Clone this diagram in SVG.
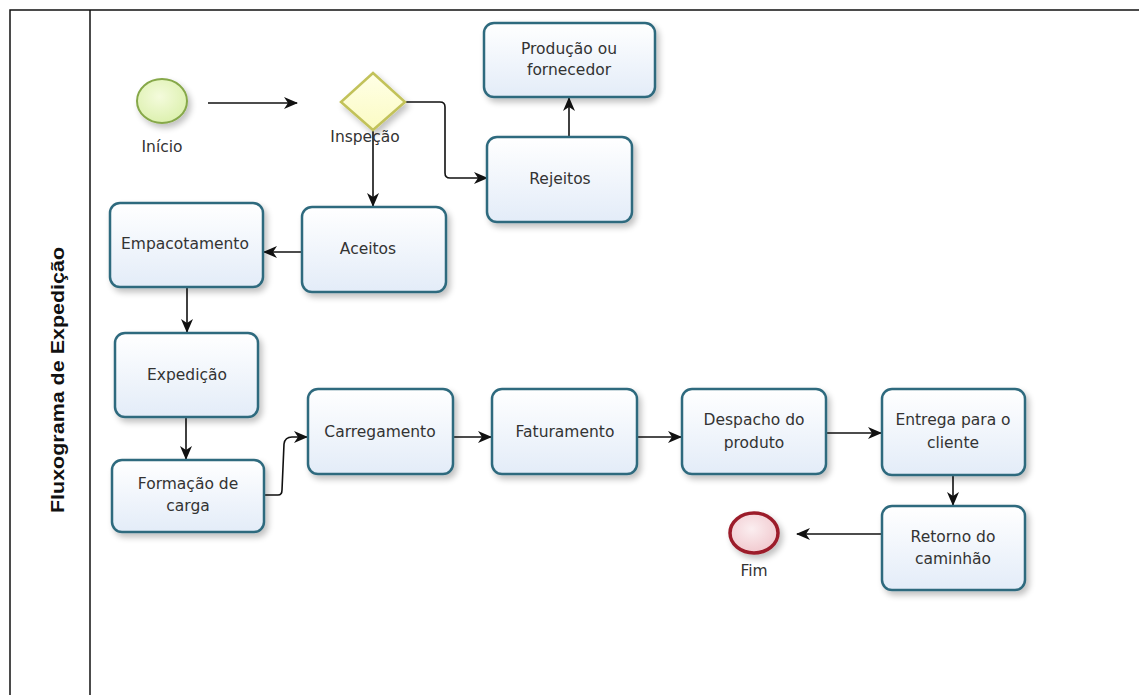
<svg xmlns="http://www.w3.org/2000/svg" width="1139" height="695" viewBox="0 0 1139 695">
<defs>
<linearGradient id="boxg" x1="0" y1="0" x2="0" y2="1">
<stop offset="0" stop-color="#ffffff"/>
<stop offset="1" stop-color="#e3ecf8"/>
</linearGradient>
<radialGradient id="startg" cx="0.45" cy="0.4" r="0.7">
<stop offset="0" stop-color="#f4fbdc"/>
<stop offset="1" stop-color="#d9efa8"/>
</radialGradient>
<radialGradient id="endg" cx="0.45" cy="0.4" r="0.7">
<stop offset="0" stop-color="#fbeef0"/>
<stop offset="1" stop-color="#efc3c9"/>
</radialGradient>
<linearGradient id="gwg" x1="0" y1="0" x2="0" y2="1">
<stop offset="0" stop-color="#ffffe6"/>
<stop offset="1" stop-color="#fbfbc4"/>
</linearGradient>
<filter id="sh" x="-20%" y="-20%" width="150%" height="150%">
<feGaussianBlur in="SourceAlpha" stdDeviation="3"/>
<feOffset dx="3" dy="4" result="b"/>
<feComponentTransfer><feFuncA type="linear" slope="0.25"/></feComponentTransfer>
<feMerge><feMergeNode/><feMergeNode in="SourceGraphic"/></feMerge>
</filter>
<marker id="arr" viewBox="0 0 14 12" refX="13" refY="6" markerWidth="14" markerHeight="12" markerUnits="userSpaceOnUse" orient="auto">
<path d="M0,0 L14,6 L0,12 L4,6 Z" fill="#111"/>
</marker>
</defs>
<style>
.box{fill:url(#boxg);stroke:#2f6a7e;stroke-width:2.5;filter:url(#sh)}
.t{font-family:"DejaVu Sans",Verdana,sans-serif;font-size:15.5px;fill:#333;text-anchor:middle}
.c{fill:none;stroke:#111;stroke-width:1.6;marker-end:url(#arr)}
.pool{fill:none;stroke:#111;stroke-width:1.5}
</style>
<rect width="1139" height="695" fill="#fff"/>
<g id="pool">
<path class="pool" d="M10,695 L10,10 L1139,10"/>
<path class="pool" d="M90,10 L90,695"/>
<text x="0" y="0" transform="translate(64,380) rotate(-90)" text-anchor="middle" textLength="266" lengthAdjust="spacingAndGlyphs" style="font-family:'Liberation Sans',Arial,sans-serif;font-size:18px;font-weight:bold;fill:#111">Fluxograma de Expedição</text>
</g>
<g id="connectors">
<path class="c" d="M208,103 L297,103"/>
<path class="c" d="M405,102 L440,102 Q445,102 445,107 L445,173 Q445,178 450,178 L487,178"/>
<path class="c" d="M373,130 L373,206"/>
<path class="c" d="M569,137 L569,98"/>
<path class="c" d="M302,252 L264,252"/>
<path class="c" d="M187,287 L187,332"/>
<path class="c" d="M186,417 L186,459"/>
<path class="c" d="M264,495 L278,495 Q282,495 282,490 L284,444 Q285,437 292,437 L307,437"/>
<path class="c" d="M449,437 L491,437"/>
<path class="c" d="M637,437 L681,437"/>
<path class="c" d="M826,433 L881,433"/>
<path class="c" d="M953,475 L953,505"/>
<path class="c" d="M882,534 L797,534"/>
</g>
<g id="inicio">
<ellipse cx="162" cy="101" rx="25" ry="22" fill="url(#startg)" stroke="#86a84a" stroke-width="2" filter="url(#sh)"/>
<text class="t" x="162" y="152">Início</text>
</g>
<g id="inspecao">
<polygon points="373,73 405,102 373,130 341,102" fill="url(#gwg)" stroke="#c2c25a" stroke-width="2.5" filter="url(#sh)"/>
<text class="t" x="365" y="142">Inspeção</text>
</g>
<g id="producao">
<rect class="box" x="484" y="23" width="171" height="74" rx="10"/>
<text class="t" x="569" y="54">Produção ou</text>
<text class="t" x="569" y="75">fornecedor</text>
</g>
<g id="rejeitos">
<rect class="box" x="487" y="137" width="145" height="85" rx="10"/>
<text class="t" x="560" y="184">Rejeitos</text>
</g>
<g id="empacotamento">
<rect class="box" x="110" y="203" width="153" height="84" rx="10"/>
<text class="t" x="185" y="249">Empacotamento</text>
</g>
<g id="aceitos">
<rect class="box" x="302" y="207" width="144" height="85" rx="10"/>
<text class="t" x="368" y="254">Aceitos</text>
</g>
<g id="expedicao">
<rect class="box" x="115" y="333" width="143" height="84" rx="10"/>
<text class="t" x="187" y="380">Expedição</text>
</g>
<g id="formacao">
<rect class="box" x="112" y="460" width="152" height="72" rx="10"/>
<text class="t" x="188" y="489">Formação de</text>
<text class="t" x="188" y="511">carga</text>
</g>
<g id="carregamento">
<rect class="box" x="308" y="389" width="145" height="85" rx="10"/>
<text class="t" x="380" y="437">Carregamento</text>
</g>
<g id="faturamento">
<rect class="box" x="492" y="389" width="145" height="85" rx="10"/>
<text class="t" x="565" y="437">Faturamento</text>
</g>
<g id="despacho">
<rect class="box" x="682" y="389" width="144" height="85" rx="10"/>
<text class="t" x="754" y="425">Despacho do</text>
<text class="t" x="754" y="448">produto</text>
</g>
<g id="entrega">
<rect class="box" x="882" y="389" width="143" height="86" rx="10"/>
<text class="t" x="953" y="425">Entrega para o</text>
<text class="t" x="953" y="448">cliente</text>
</g>
<g id="retorno">
<rect class="box" x="882" y="506" width="143" height="84" rx="10"/>
<text class="t" x="953" y="542">Retorno do</text>
<text class="t" x="953" y="564">caminhão</text>
</g>
<g id="fim">
<ellipse cx="754" cy="533" rx="24" ry="20" fill="url(#endg)" stroke="#9c1f2c" stroke-width="3.5" filter="url(#sh)"/>
<text class="t" x="754" y="576">Fim</text>
</g>
</svg>
